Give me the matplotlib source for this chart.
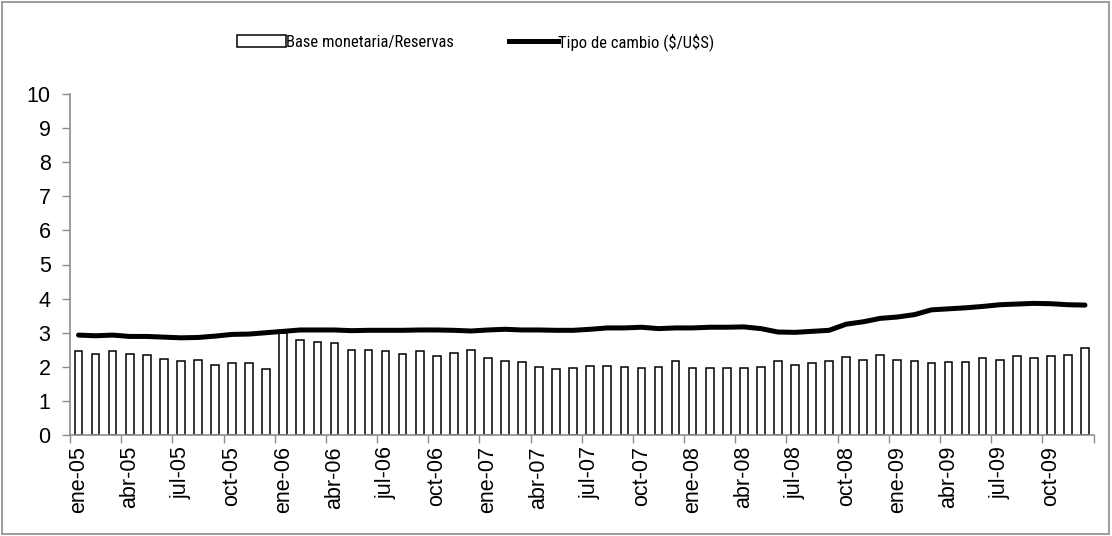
import matplotlib
matplotlib.use("Agg")
import matplotlib.pyplot as plt
from matplotlib import font_manager
from matplotlib.patches import Rectangle
from matplotlib.lines import Line2D
import numpy as np

months = ["ene", "feb", "mar", "abr", "may", "jun", "jul", "ago", "sep", "oct", "nov", "dic"]
years = ["05", "06", "07", "08", "09"]
categories = [f"{m}-{y}" for y in years for m in months]

base_reservas = [2.45, 2.39, 2.47, 2.39, 2.34, 2.24, 2.16, 2.19, 2.04, 2.10, 2.10, 1.95,
                 3.00, 2.79, 2.73, 2.70, 2.49, 2.49, 2.47, 2.39, 2.46, 2.32, 2.41, 2.49,
                 2.26, 2.16, 2.14, 2.00, 1.94, 1.96, 2.02, 2.02, 2.00, 1.97, 1.99, 2.16,
                 1.97, 1.97, 1.96, 1.96, 1.99, 2.16, 2.05, 2.11, 2.16, 2.30, 2.21, 2.34,
                 2.21, 2.18, 2.10, 2.14, 2.14, 2.25, 2.21, 2.31, 2.27, 2.33, 2.35, 2.55]

tipo_cambio = [2.93, 2.91, 2.93, 2.89, 2.89, 2.87, 2.85, 2.86, 2.90, 2.95, 2.96, 3.00,
               3.04, 3.08, 3.08, 3.08, 3.06, 3.07, 3.07, 3.07, 3.08, 3.08, 3.07, 3.05,
               3.08, 3.10, 3.08, 3.08, 3.07, 3.07, 3.10, 3.14, 3.14, 3.16, 3.12, 3.14,
               3.14, 3.16, 3.16, 3.17, 3.12, 3.02, 3.01, 3.04, 3.07, 3.25, 3.32, 3.42,
               3.46, 3.53, 3.67, 3.70, 3.73, 3.77, 3.82, 3.84, 3.86, 3.85, 3.82, 3.81]

legend_labels = ["Base monetaria/Reservas", r"Tipo de cambio (\$/U\$S)"]

flist = font_manager.fontManager.ttflist
available = {f.name for f in flist}
tick_font = "Liberation Sans" if "Liberation Sans" in available else "DejaVu Sans"

LEG_SIZE = 12
legend_prop = None
for name in ["Liberation Sans Narrow", "Roboto Condensed", "Open Sans Condensed",
             "Noto Sans Condensed", "DejaVu Sans Condensed"]:
    if name in available:
        legend_prop = font_manager.FontProperties(family=name, size=LEG_SIZE)
        break
if legend_prop is None:
    cond = [f for f in flist if ("ondensed" in f.fname or "Narrow" in f.fname)
            and f.style == "normal" and f.weight in (400, "normal", "regular")]
    if cond:
        legend_prop = font_manager.FontProperties(fname=cond[0].fname, size=LEG_SIZE)
    else:
        legend_prop = font_manager.FontProperties(family=tick_font, size=11)

fig = plt.figure(figsize=(11.12, 5.36), dpi=100)
ax = fig.add_axes([70 / 1112, 1 - 435 / 536, (1093.5 - 70) / 1112, (435 - 94) / 536])

x = np.arange(len(categories))
ax.bar(x, base_reservas, width=0.45, facecolor="white", edgecolor="black",
       linewidth=1.1, zorder=2)
ax.plot(x, tipo_cambio, color="black", linewidth=3.6, solid_capstyle="round",
        solid_joinstyle="round", zorder=3)

ax.set_xlim(-0.5, len(categories) - 0.5)
ax.set_ylim(0, 10)
ax.set_yticks(range(0, 11))
ax.set_yticklabels([str(v) for v in range(0, 11)], fontsize=15.5, family=tick_font)

ax.set_xticks(np.arange(-0.5, len(categories), 3))
ax.set_xticklabels([])
ax.set_xticks(x[::3], minor=True)
ax.set_xticklabels(categories[::3], minor=True, rotation=90, fontsize=15.5, family=tick_font)
ax.tick_params(axis="x", which="minor", length=0, pad=8)
ax.tick_params(axis="x", which="major", length=6, width=1, color="#8c8c8c", direction="out")
ax.tick_params(axis="y", length=6, width=1, color="#8c8c8c", direction="out", pad=8)

for s in ["top", "right"]:
    ax.spines[s].set_visible(False)
for s in ["left", "bottom"]:
    ax.spines[s].set_color("#8c8c8c")
    ax.spines[s].set_linewidth(1.2)

handles = [Rectangle((0, 0), 1, 1, facecolor="white", edgecolor="black", linewidth=1.1),
           Line2D([0], [0], color="black", linewidth=3.6)]
leg = fig.legend(handles, legend_labels, loc="center", bbox_to_anchor=(476 / 1112, 1 - 42 / 536),
                 ncol=2, frameon=False, prop=legend_prop,
                 handlelength=2.9, handletextpad=0.05, columnspacing=3.3, handleheight=0.75)

fig.add_artist(Rectangle((2 / 1112, 2 / 536), 1107 / 1112, 532 / 536, transform=fig.transFigure,
                         fill=False, edgecolor="#8c8c8c", linewidth=1.2))

fig.savefig("out.png", dpi=100)
